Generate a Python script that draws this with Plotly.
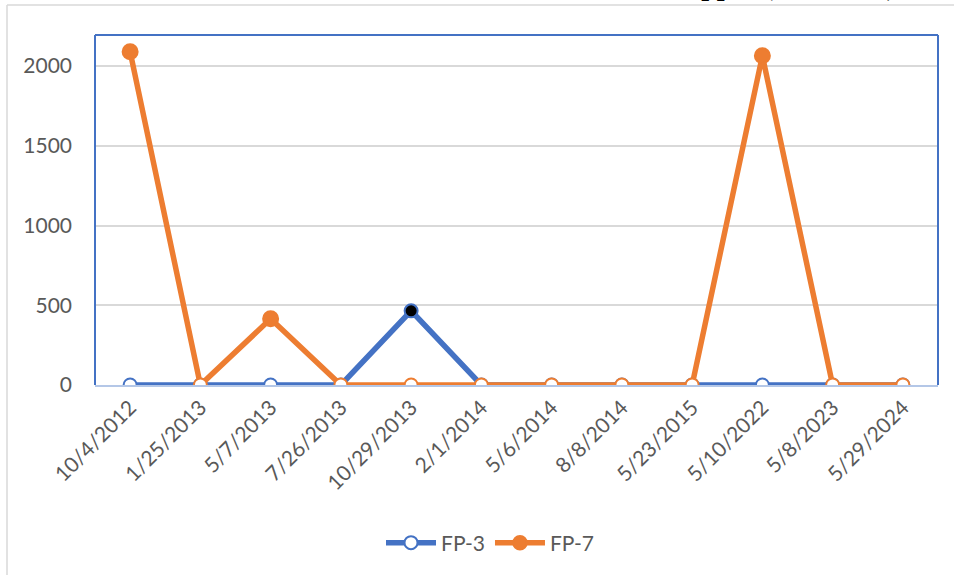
import plotly.graph_objects as go

dates = ["10/4/2012", "1/25/2013", "5/7/2013", "7/26/2013", "10/29/2013", "2/1/2014",
         "5/6/2014", "8/8/2014", "5/23/2015", "5/10/2022", "5/8/2023", "5/29/2024"]
fp3 = [0, 0, 0, 0, 465, 0, 0, 0, 0, 0, 0, 0]
fp7 = [2090, 0, 415, 0, 0, 0, 0, 0, 0, 2065, 0, 0]
y_ticks = [0, 500, 1000, 1500, 2000]

BLUE = "#4472C4"
ORANGE = "#ED7D31"
FONT = "Lato, Carlito, sans-serif"

W, H = 954, 575
L, R, T, B = 95, 16, 35, 190

fig = go.Figure()
fig.add_trace(go.Scatter(
    x=dates, y=fp3, name="FP-3", mode="lines+markers",
    line=dict(color=BLUE, width=5.5),
    marker=dict(symbol="circle", size=13, opacity=1,
                color=["black" if v > 0 else "white" for v in fp3],
                line=dict(color=BLUE, width=2)),
))
fig.add_trace(go.Scatter(
    x=dates, y=fp7, name="FP-7", mode="lines+markers",
    line=dict(color=ORANGE, width=5.5),
    marker=dict(symbol="circle", size=[15 if v > 0 else 13 for v in fp7], opacity=1,
                color=[ORANGE if v > 0 else "white" for v in fp7],
                line=dict(color=ORANGE, width=2)),
))

pw = W - L - R
ph = H - T - B


def px_to_paper_x(px):
    return (px - L) / pw


def px_to_paper_y(py):
    return (H - B - py) / ph


shapes = [
    # plot-area border (top, left, right)
    dict(type="line", xref="paper", yref="paper", x0=0, x1=1, y0=1, y1=1,
         line=dict(color=BLUE, width=2)),
    dict(type="line", xref="paper", yref="paper", x0=0, x1=0, y0=0, y1=1,
         line=dict(color=BLUE, width=2)),
    dict(type="line", xref="paper", yref="paper", x0=1, x1=1, y0=0, y1=1,
         line=dict(color=BLUE, width=2)),
    # chart-area frame
    dict(type="line", xref="paper", yref="paper",
         x0=px_to_paper_x(7), x1=px_to_paper_x(960), y0=px_to_paper_y(5), y1=px_to_paper_y(5),
         line=dict(color="#D9D9D9", width=1.5)),
    dict(type="line", xref="paper", yref="paper",
         x0=px_to_paper_x(7), x1=px_to_paper_x(7), y0=px_to_paper_y(5), y1=px_to_paper_y(580),
         line=dict(color="#D9D9D9", width=1.5)),
]

fig.update_layout(
    width=W, height=H,
    margin=dict(l=L, r=R, t=T, b=B),
    paper_bgcolor="white", plot_bgcolor="white",
    font=dict(family=FONT, color="#595959", size=21),
    showlegend=True,
    legend=dict(orientation="h", x=px_to_paper_x(490), xanchor="center",
                y=px_to_paper_y(543), yanchor="middle",
                font=dict(size=21, color="#595959"), itemwidth=50),
    shapes=shapes,
    annotations=[dict(
        text="<b>Total Metals, Copper (Dissolved)</b>", xref="paper", yref="paper",
        x=px_to_paper_x(898), xanchor="right", y=px_to_paper_y(3), yanchor="bottom",
        showarrow=False, font=dict(family="Liberation Serif, Times New Roman, serif", size=28, color="black"),
    )],
    xaxis=dict(
        type="category", range=[-0.5, len(dates) - 0.5],
        showgrid=False, showline=True, linecolor="#B4C7E7", linewidth=2,
        ticks="", tickangle=-45, tickfont=dict(size=21, color="#595959"),
        zeroline=False,
    ),
    yaxis=dict(
        range=[0, 2195], tickvals=y_ticks, showgrid=True, gridcolor="#D9D9D9", gridwidth=1.5,
        showline=False, zeroline=False, ticks="", ticklabelstandoff=22,
        tickfont=dict(size=21, color="#595959"),
    ),
)

fig.write_html("out.html", config={"displayModeBar": False},
               post_script="document.body.style.margin='0';")
